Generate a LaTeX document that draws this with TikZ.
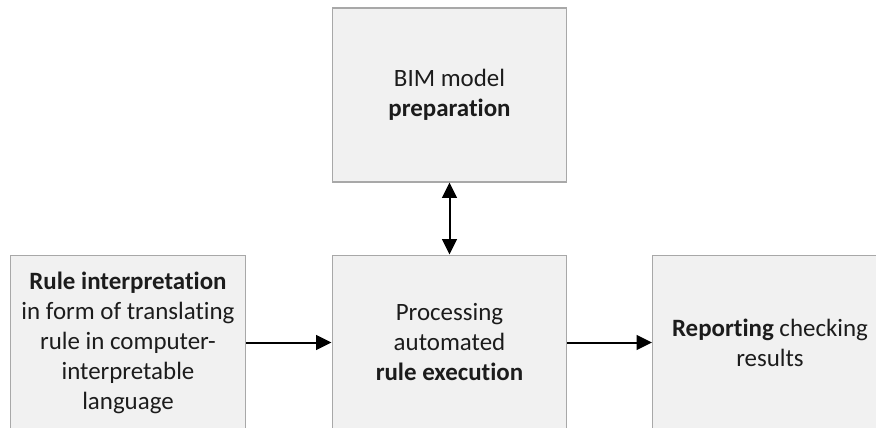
\documentclass[tikz,border=0pt]{standalone}
\usepackage{fontspec}
\setmainfont{Carlito}[Ligatures=NoCommon]
\usetikzlibrary{arrows.meta}
\definecolor{boxfill}{HTML}{F1F1F1}
\definecolor{boxline}{HTML}{A8A8A8}
\definecolor{ink}{HTML}{1C1C1C}
\tikzset{
  stage/.style={draw=boxline, fill=boxfill, line width=0.9pt, text=ink,
    minimum width=176pt, inner sep=0pt, align=center,
    font=\fontsize{18.7}{22.5}\selectfont},
  tip/.style={Triangle[length=11.5pt,width=11pt]},
  flow/.style={line width=1.5pt, -{Triangle[length=11.5pt,width=11pt]}},
  twoway/.style={line width=1.5pt, {Triangle[length=11.5pt,width=11pt]}-{Triangle[length=11.5pt,width=11pt]}}
}
\begin{document}
\begin{tikzpicture}[x=0.75pt, y=-0.75pt]
\useasboundingbox (0,0) rectangle (876,428);
\clip (0,0) rectangle (876,428);
\node[stage, minimum height=130.5pt] (prep) at (449.5,95)
  {BIM model\\\textbf{preparation}};
\node[stage, minimum height=131pt] (rule) at (128,342.5)
  {\textbf{Rule interpretation}\\in form of translating\\rule in computer-\\interpretable\\language};
\node[stage, minimum height=131pt] (exec) at (449.5,342.5)
  {Processing\\automated\\\textbf{rule execution}};
\node[stage, minimum height=131pt] (report) at (770,342.5)
  {\textbf{Reporting} checking\\results};
\draw[twoway] (prep.south) -- (exec.north);
\draw[flow] (rule.east) -- (exec.west);
\draw[flow] (exec.east) -- (report.west);
\end{tikzpicture}
\end{document}
